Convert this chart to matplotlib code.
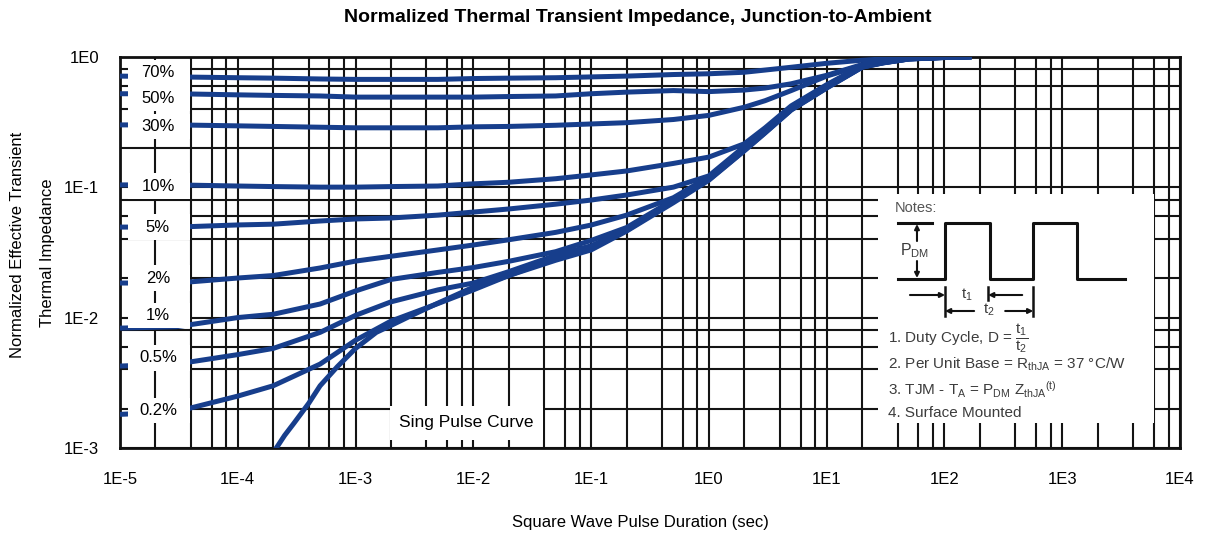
import matplotlib
matplotlib.use('Agg')
import matplotlib.pyplot as plt
from matplotlib.patches import Rectangle
from matplotlib.ticker import LogLocator, NullFormatter

# 字体
plt.rcParams['font.family'] = ['Liberation Sans', 'DejaVu Sans']
plt.rcParams['mathtext.fontset'] = 'custom'
plt.rcParams['mathtext.rm'] = 'Liberation Sans'
plt.rcParams['mathtext.it'] = 'Liberation Sans'
plt.rcParams['mathtext.bf'] = 'Liberation Sans:bold'

# 占空比曲线 (脉宽 s, 归一化热阻)
t_dc = [1e-5, 3e-5, 1e-4, 2e-4, 5e-4, 1e-3, 2e-3, 5e-3, 1e-2, 2e-2, 5e-2, 0.1,
        0.2, 0.5, 1, 2, 3, 5, 10, 20, 30, 50, 100, 170]
z_70 = [0.71, 0.70, 0.69, 0.685, 0.675, 0.67, 0.67, 0.67, 0.68, 0.685, 0.69, 0.70,
        0.71, 0.73, 0.74, 0.76, 0.79, 0.83, 0.89, 0.94, 0.96, 0.98, 0.995, 1.0]
z_50 = [0.52, 0.52, 0.51, 0.505, 0.50, 0.49, 0.49, 0.49, 0.49, 0.495, 0.50, 0.52,
        0.535, 0.55, 0.54, 0.555, 0.575, 0.62, 0.72, 0.87, 0.925, 0.97, 0.993, 1.0]
z_30 = [0.30, 0.30, 0.295, 0.292, 0.288, 0.285, 0.285, 0.285, 0.29, 0.292, 0.298, 0.305,
        0.312, 0.33, 0.355, 0.41, 0.46, 0.55, 0.71, 0.86, 0.92, 0.97, 0.993, 1.0]
z_10 = [0.104, 0.104, 0.102, 0.101, 0.100, 0.100, 0.101, 0.102, 0.106, 0.109, 0.116, 0.124,
        0.133, 0.152, 0.17, 0.215, 0.285, 0.42, 0.61, 0.855, 0.91, 0.968, 0.99, 1.0]
z_5 = [0.0494, 0.0494, 0.0513, 0.052, 0.055, 0.057, 0.058, 0.061, 0.0644, 0.068, 0.074, 0.0796,
       0.087, 0.100, 0.122, 0.205, 0.278, 0.41, 0.60, 0.85, 0.91, 0.967, 0.99, 1.0]
z_2 = [0.0184, 0.0184, 0.0201, 0.021, 0.024, 0.0271, 0.0295, 0.033, 0.036, 0.0395, 0.045, 0.0512,
       0.061, 0.083, 0.12, 0.20, 0.272, 0.405, 0.59, 0.845, 0.905, 0.965, 0.99, 1.0]
z_1 = [0.0083, 0.0085, 0.0100, 0.0106, 0.0127, 0.0160, 0.0196, 0.0222, 0.0242, 0.027, 0.032, 0.039,
       0.049, 0.080, 0.118, 0.196, 0.267, 0.40, 0.585, 0.84, 0.90, 0.963, 0.988, 1.0]
z_05 = [0.00425, 0.0044, 0.0052, 0.0058, 0.0077, 0.0104, 0.0132, 0.0163, 0.0184, 0.0225, 0.030, 0.0355,
        0.047, 0.079, 0.116, 0.193, 0.264, 0.395, 0.58, 0.835, 0.90, 0.962, 0.987, 1.0]
z_02 = [0.00181, 0.0019, 0.0025, 0.0030, 0.0044, 0.0067, 0.0094, 0.0128, 0.0163, 0.021, 0.0285, 0.0345,
        0.0465, 0.078, 0.114, 0.191, 0.262, 0.392, 0.578, 0.832, 0.897, 0.961, 0.986, 1.0]

# 单脉冲曲线
t_sp = [2.0e-4, 2.5e-4, 3e-4, 4e-4, 5e-4, 7e-4, 1e-3, 1.5e-3, 2e-3, 3e-3, 5e-3, 1e-2, 2e-2,
        5e-2, 0.1, 0.2, 0.5, 1, 2, 3, 5, 10, 20, 30, 50, 100, 170]
z_sp = [0.00092, 0.00125, 0.00155, 0.0022, 0.0030, 0.0042, 0.0058, 0.0077, 0.0087, 0.0104,
        0.0129, 0.0171, 0.021, 0.0275, 0.033, 0.046, 0.076, 0.113, 0.19, 0.26, 0.39, 0.575,
        0.83, 0.895, 0.96, 0.985, 1.0]

duty_curves = [z_70, z_50, z_30, z_10, z_5, z_2, z_1, z_05, z_02]
duty_labels = ['70%', '50%', '30%', '10%', '5%', '2%', '1%', '0.5%', '0.2%']
label_z = [0.75, 0.48, 0.29, 0.102, 0.0494, 0.0201, 0.0104, 0.0049, 0.00195]
label_t = 2.1e-5

x_ticks = [1e-5, 1e-4, 1e-3, 1e-2, 1e-1, 1, 10, 100, 1e3, 1e4]
x_ticklabels = ['1E-5', '1E-4', '1E-3', '1E-2', '1E-1', '1E0', '1E1', '1E2', '1E3', '1E4']
y_ticks = [1e-3, 1e-2, 1e-1, 1]
y_ticklabels = ['1E-3', '1E-2', '1E-1', '1E0']

blue = '#173e8c'
W, H = 1205, 536

fig = plt.figure(figsize=(W / 100, H / 100), dpi=100)
ax = fig.add_axes([120 / W, 1 - 448 / H, 1060 / W, 391.3 / H])
ax.set_xscale('log')
ax.set_yscale('log')
ax.set_xlim(1e-5, 1e4)
ax.set_ylim(1e-3, 1)

# 网格
ax.xaxis.set_minor_locator(LogLocator(base=10, subs=[2, 4, 6, 8], numticks=20))
ax.yaxis.set_minor_locator(LogLocator(base=10, subs=[2, 4, 6, 8], numticks=20))
ax.xaxis.set_minor_formatter(NullFormatter())
ax.yaxis.set_minor_formatter(NullFormatter())
ax.set_axisbelow(True)
ax.grid(which='both', color='#141414', linewidth=1.5)

ax.set_xticks(x_ticks)
ax.set_xticklabels(x_ticklabels)
ax.set_yticks(y_ticks)
ax.set_yticklabels(y_ticklabels)
ax.tick_params(which='both', length=0)
ax.tick_params(axis='x', pad=17, labelsize=12)
ax.tick_params(axis='y', pad=15, labelsize=12)
for s in ax.spines.values():
    s.set_linewidth(2)
    s.set_color('#111111')

# 曲线
for z in duty_curves:
    ax.plot(t_dc, z, color=blue, linewidth=3.6, solid_capstyle='butt', zorder=3)
ax.plot(t_sp, z_sp, color=blue, linewidth=3.6, solid_capstyle='butt', zorder=3)

# 占空比标签 (白底)
ytrans = ax.get_yaxis_transform()
for lab, zl in zip(duty_labels, label_z):
    ax.add_patch(Rectangle((0.0075, zl / 1.25), 0.0585, zl * 1.25 - zl / 1.25,
                           transform=ytrans, facecolor='white', edgecolor='none', zorder=3.5))
    ax.text(label_t, zl, lab, ha='center', va='center', fontsize=12, zorder=4)

ax.text(0.327, 0.064, 'Sing Pulse Curve', transform=ax.transAxes, ha='center', va='center',
        fontsize=12.5, zorder=4,
        bbox=dict(boxstyle='square,pad=0.55', facecolor='white', edgecolor='none'))

# 注释框
ins = ax.inset_axes([0.715, 0.064, 0.26, 0.585])
ins.set_xlim(0, 275)
ins.set_ylim(229, 0)
ins.set_facecolor('white')
ins.set_xticks([])
ins.set_yticks([])
for s in ins.spines.values():
    s.set_visible(False)

k = '#111111'
ins.plot([20, 67, 67, 112, 112, 155, 155, 199, 199, 247],
         [85, 85, 29, 29, 85, 85, 29, 29, 85, 85], color=k, lw=2.2)
ins.plot([20, 54], [29, 29], color=k, lw=2.2)
ins.plot([67, 67], [93, 122], color=k, lw=1.8)
ins.plot([110, 110], [93, 106], color=k, lw=1.8)
ins.plot([155, 155], [93, 122], color=k, lw=1.8)

arr = dict(arrowstyle='-|>', color=k, lw=1.5, mutation_scale=7, shrinkA=0, shrinkB=0)
ins.annotate('', xy=(39, 30), xytext=(39, 47), arrowprops=arr)
ins.annotate('', xy=(39, 84), xytext=(39, 67), arrowprops=arr)
ins.annotate('', xy=(67, 101), xytext=(32, 101), arrowprops=arr)
ins.annotate('', xy=(110, 101), xytext=(144, 101), arrowprops=arr)
ins.annotate('', xy=(67, 117), xytext=(96, 117), arrowprops=arr)
ins.annotate('', xy=(155, 117), xytext=(127, 117), arrowprops=arr)

g = '#3c3c3c'
ins.text(17, 14, 'Notes:', color='#555555', fontsize=10.5, va='center')
ins.text(22, 57, r'P$_{\mathrm{DM}}$', color=g, fontsize=11.5, va='center')
ins.text(89, 101, r'$\mathrm{t}_1$', color=g, fontsize=11, ha='center', va='center')
ins.text(111, 116, r'$\mathrm{t}_2$', color=g, fontsize=11, ha='center', va='center')
ins.text(10, 144, r'1. Duty Cycle, D = $\dfrac{\mathrm{t}_1}{\mathrm{t}_2}$', color=g,
         fontsize=11, va='center')
ins.text(10, 170, r'2. Per Unit Base = R$_{\mathrm{thJA}}$ = 37 °C/W', color=g,
         fontsize=11, va='center')
ins.text(10, 196, r'3. TJM - T$_{\mathrm{A}}$ = P$_{\mathrm{DM}}$ Z$_{\mathrm{thJA}}$$^{\mathrm{(t)}}$',
         color=g, fontsize=11, va='center')
ins.text(10, 219, '4. Surface Mounted', color=g, fontsize=11, va='center')

# 标题和坐标轴标题
fig.text(638 / W, 1 - 18 / H, 'Normalized Thermal Transient Impedance, Junction-to-Ambient',
         ha='center', va='center', fontsize=14, fontweight='bold')
fig.text(640 / W, 1 - 523 / H, 'Square Wave Pulse Duration (sec)', ha='center', va='center',
         fontsize=12)
fig.text(18 / W, 1 - 245 / H, 'Normalized Effective Transient', rotation=90,
         ha='center', va='center', fontsize=12)
fig.text(48 / W, 1 - 253 / H, 'Thermal Impedance', rotation=90,
         ha='center', va='center', fontsize=12)

fig.savefig('out.png', dpi=100, facecolor='white')
